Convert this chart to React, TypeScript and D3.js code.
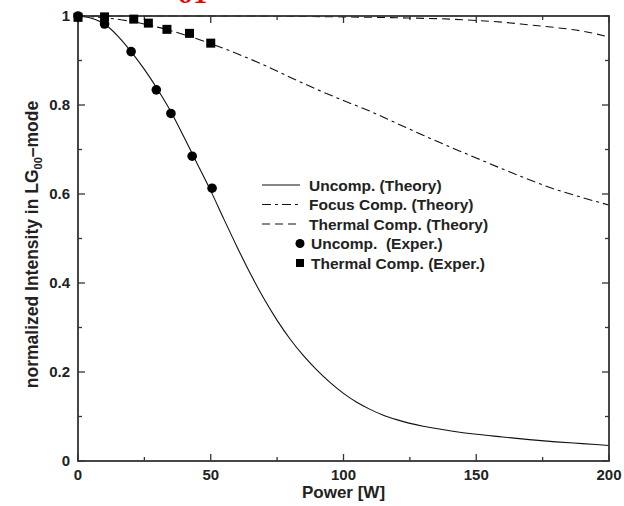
import React, { useEffect, useRef } from 'react';
import * as d3 from 'd3';

// theory curves: [power W, normalized intensity]
const uncompTheory: [number, number][] = [
    [0, 1.0], [5, 0.995], [10, 0.982], [15, 0.955], [20, 0.92], [25, 0.88], [30, 0.835],
    [35, 0.785], [40, 0.727], [45, 0.667], [50, 0.607], [55, 0.543], [60, 0.48], [65, 0.42],
    [70, 0.365], [75, 0.316], [80, 0.273], [85, 0.236], [90, 0.204], [95, 0.176], [100, 0.152],
    [105, 0.132], [110, 0.116], [115, 0.103], [120, 0.093], [130, 0.078], [140, 0.068],
    [150, 0.06], [160, 0.054], [170, 0.048], [180, 0.043], [190, 0.039], [200, 0.035],
];
const focusTheory: [number, number][] = [
    [0, 1.0], [10, 0.996], [20, 0.988], [30, 0.975], [40, 0.958], [50, 0.938], [60, 0.915],
    [70, 0.89], [80, 0.862], [90, 0.835], [100, 0.81], [110, 0.786], [120, 0.759],
    [130, 0.732], [140, 0.706], [150, 0.681], [160, 0.656], [170, 0.632], [180, 0.61],
    [190, 0.592], [200, 0.575],
];
const thermalTheory: [number, number][] = [
    [0, 1.0], [50, 1.0], [100, 0.998], [120, 0.996], [140, 0.993], [150, 0.99], [160, 0.986],
    [170, 0.98], [180, 0.974], [190, 0.966], [200, 0.953],
];
// measured points
const uncompExper: [number, number][] = [
    [0, 1.0], [10, 0.982], [20, 0.92], [29.5, 0.834], [35, 0.781], [43, 0.685], [50.5, 0.613],
];
const thermalExper: [number, number][] = [
    [0, 0.997], [10, 0.998], [21, 0.993], [26.5, 0.984], [33.5, 0.97], [42, 0.961], [50, 0.939],
];

const xMajor = [0, 50, 100, 150, 200];
const xMinor = [25, 75, 125, 175];
const yMajor = [0, 0.2, 0.4, 0.6, 0.8, 1];
const yMinor = [0.1, 0.3, 0.5, 0.7, 0.9];

const legendItems = [
    { label: 'Uncomp. (Theory)', kind: 'line', dash: null },
    { label: 'Focus Comp. (Theory)', kind: 'line', dash: '9,4,3,4' },
    { label: 'Thermal Comp. (Theory)', kind: 'line', dash: '8,5' },
    { label: 'Uncomp.  (Exper.)', kind: 'circle', dash: null },
    { label: 'Thermal Comp. (Exper.)', kind: 'square', dash: null },
];

const W = 624;
const H = 506;
const FONT = '"Liberation Sans", Arial, Helvetica, sans-serif';
const INK = '#222';

export default function App() {
    const ref = useRef<SVGSVGElement | null>(null);

    useEffect(() => {
        const svg = d3.select(ref.current);
        svg.selectAll('*').remove();

        const left = 78, right = 609, top = 16, bottom = 461;

        const x = d3.scaleLinear().domain([0, 200]).range([left, right]);
        const y = d3.scaleLinear().domain([0, 1]).range([bottom, top]);

        svg.append('rect').attr('width', W).attr('height', H).attr('fill', '#fff');

        // red text, cut off at the top edge like in the source
        svg.append('text')
            .attr('x', 178).attr('y', 3)
            .attr('font-family', 'serif').attr('font-weight', 'bold')
            .attr('font-size', 28).attr('fill', '#e00')
            .text('σ1');

        // ticks (inward, mirrored on top/right)
        const ticks = svg.append('g').attr('stroke', '#333').attr('stroke-width', 1.3);
        const xt = (vals: number[], len: number) => {
            vals.forEach(v => {
                ticks.append('line').attr('x1', x(v)).attr('x2', x(v)).attr('y1', bottom).attr('y2', bottom - len);
                ticks.append('line').attr('x1', x(v)).attr('x2', x(v)).attr('y1', top).attr('y2', top + len);
            });
        };
        const yt = (vals: number[], len: number) => {
            vals.forEach(v => {
                ticks.append('line').attr('y1', y(v)).attr('y2', y(v)).attr('x1', left).attr('x2', left + len);
                ticks.append('line').attr('y1', y(v)).attr('y2', y(v)).attr('x1', right).attr('x2', right - len);
            });
        };
        xt(xMajor, 7); xt(xMinor, 4);
        yt(yMajor, 7); yt(yMinor, 4);

        // tick labels
        svg.append('g').selectAll('text')
            .data(xMajor).enter().append('text')
            .attr('x', d => x(d)).attr('y', bottom + 19)
            .attr('text-anchor', 'middle')
            .attr('font-family', FONT).attr('font-weight', 'bold').attr('font-size', 15)
            .attr('fill', INK)
            .text(d => d3.format('d')(d));

        svg.append('g').selectAll('text')
            .data(yMajor).enter().append('text')
            .attr('x', left - 8).attr('y', d => y(d) + 5)
            .attr('text-anchor', 'end')
            .attr('font-family', FONT).attr('font-weight', 'bold').attr('font-size', 15)
            .attr('fill', INK)
            .text(d => (d === 0 || d === 1 ? d3.format('d')(d) : d3.format('.1f')(d)));

        // axis titles
        svg.append('text')
            .attr('x', (left + right) / 2).attr('y', bottom + 37)
            .attr('text-anchor', 'middle')
            .attr('font-family', FONT).attr('font-weight', 'bold').attr('font-size', 17)
            .attr('fill', INK)
            .text('Power [W]');

        const yTitle = svg.append('text')
            .attr('transform', `translate(38, ${(top + bottom) / 2 + 6}) rotate(-90)`)
            .attr('text-anchor', 'middle')
            .attr('font-family', FONT).attr('font-weight', 'bold').attr('font-size', 17.5)
            .attr('fill', INK);
        yTitle.append('tspan').text('normalized Intensity in LG');
        yTitle.append('tspan').attr('font-size', 11).attr('dy', 4).text('00');
        yTitle.append('tspan').attr('dy', -4).text('\u2013mode');

        // curves
        const line = d3.line<[number, number]>()
            .x(d => x(d[0])).y(d => y(d[1]))
            .curve(d3.curveMonotoneX);

        const curves = svg.append('g').attr('fill', 'none').attr('stroke', '#111').attr('stroke-width', 1.1);
        curves.append('path').attr('d', line(thermalTheory)).attr('stroke-dasharray', '8,5');
        curves.append('path').attr('d', line(focusTheory)).attr('stroke-dasharray', '9,4,3,4');
        curves.append('path').attr('d', line(uncompTheory));

        // frame
        svg.append('rect')
            .attr('x', left).attr('y', top)
            .attr('width', right - left).attr('height', bottom - top)
            .attr('fill', 'none').attr('stroke', '#333').attr('stroke-width', 1.8);

        // markers
        svg.append('g').selectAll('rect')
            .data(thermalExper).enter().append('rect')
            .attr('x', d => x(d[0]) - 4.5).attr('y', d => y(d[1]) - 4.5)
            .attr('width', 9).attr('height', 9)
            .attr('fill', '#000');

        svg.append('g').selectAll('circle')
            .data(uncompExper).enter().append('circle')
            .attr('cx', d => x(d[0])).attr('cy', d => y(d[1]))
            .attr('r', 4.8)
            .attr('fill', '#000');

        // legend
        const lg = svg.append('g');
        const lx0 = 262, lx1 = 300, tx = 310, ly0 = 185, step = 19.5;
        legendItems.forEach((it, i) => {
            const ly = ly0 + i * step;
            if (it.kind === 'line') {
                const l = lg.append('line')
                    .attr('x1', lx0).attr('x2', lx1).attr('y1', ly).attr('y2', ly)
                    .attr('stroke', '#111').attr('stroke-width', 1.1);
                if (it.dash) l.attr('stroke-dasharray', it.dash);
            } else if (it.kind === 'circle') {
                lg.append('circle').attr('cx', lx1).attr('cy', ly).attr('r', 4.5).attr('fill', '#000');
            } else {
                lg.append('rect').attr('x', lx1 - 4).attr('y', ly - 4).attr('width', 8).attr('height', 8).attr('fill', '#000');
            }
            lg.append('text')
                .attr('x', it.kind === 'line' ? tx - 1 : tx + 1).attr('y', ly + 5.5)
                .attr('font-family', FONT).attr('font-weight', 'bold').attr('font-size', 15.5)
                .attr('fill', INK)
                .attr('xml:space', 'preserve')
                .style('white-space', 'pre')
                .text(it.label);
        });
    }, []);

    return (
        <svg ref={ref} width={W} height={H}
            style={{ position: 'absolute', left: 0, top: 0, display: 'block' }} />
    );
}
